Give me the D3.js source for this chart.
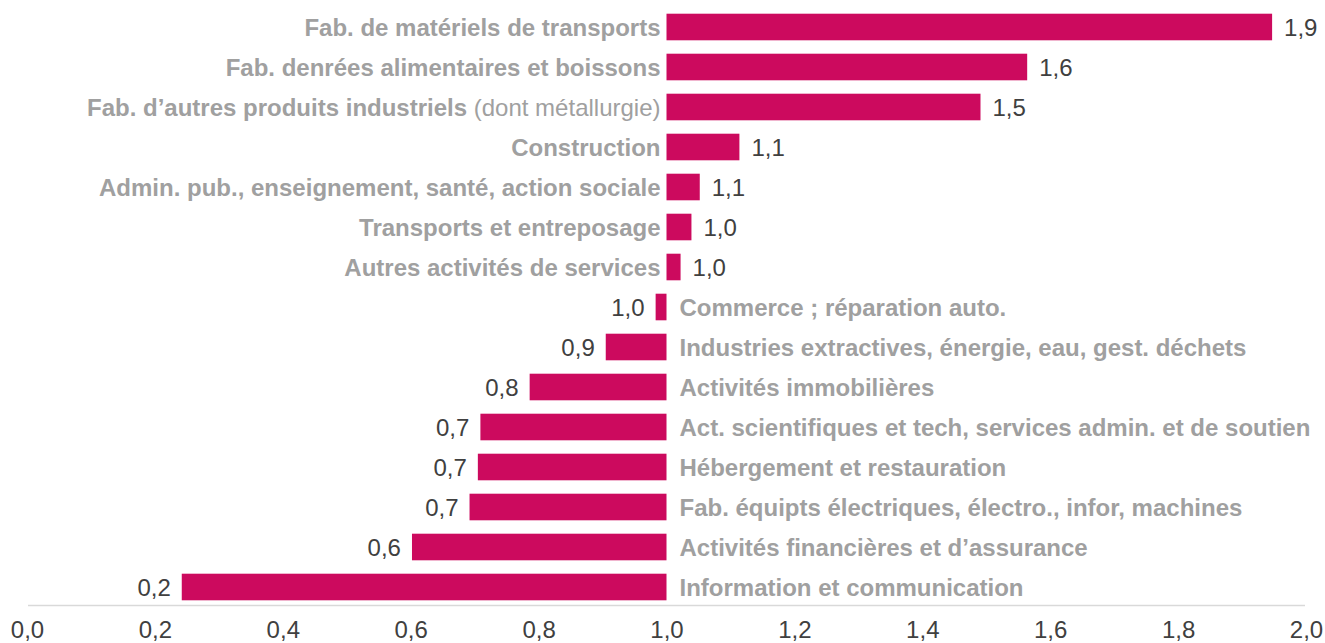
<!DOCTYPE html>
<html>
<head>
<meta charset="utf-8">
<script src="https://cdn.jsdelivr.net/npm/d3@7"></script>
<style>
  body { margin: 0; background: #fff; }
  svg text { font-family: "Liberation Sans", Arial, sans-serif; }
</style>
</head>
<body>
<div id="chart"></div>
<script>
// categories, top to bottom
var categories = [
    "Fab. de matériels de transports",
    "Fab. denrées alimentaires et boissons",
    "Fab. d’autres produits industriels",
    "Construction",
    "Admin. pub., enseignement, santé, action sociale",
    "Transports et entreposage",
    "Autres activités de services",
    "Commerce ; réparation auto.",
    "Industries extractives, énergie, eau, gest. déchets",
    "Activités immobilières",
    "Act. scientifiques et tech, services admin. et de soutien",
    "Hébergement et restauration",
    "Fab. équipts électriques, électro., infor, machines",
    "Activités financières et d’assurance",
    "Information et communication"
];
// light suffix shown after the bold name
var suffixes = ["", "", " (dont métallurgie)", "", "", "", "", "", "", "", "", "", "", "", ""];

var values = [1.947, 1.564, 1.491, 1.114, 1.052, 1.039, 1.022, 0.983, 0.905, 0.786, 0.709, 0.705, 0.692, 0.602, 0.242];
var valueLabels = ["1,9", "1,6", "1,5", "1,1", "1,1", "1,0", "1,0", "1,0", "0,9", "0,8", "0,7", "0,7", "0,7", "0,6", "0,2"];

var tickValues = [0, 0.2, 0.4, 0.6, 0.8, 1.0, 1.2, 1.4, 1.6, 1.8, 2.0];
var tickLabels = ["0,0", "0,2", "0,4", "0,6", "0,8", "1,0", "1,2", "1,4", "1,6", "1,8", "2,0"];

var baseline = 1.0;

var width = 1325, height = 643;
var fontSize = "24px";

var svg = d3.select("#chart").append("svg")
    .attr("width", width)
    .attr("height", height);

var x = d3.scaleLinear().domain([0, 2]).range([27, 1306]);

var y = d3.scaleBand()
    .domain(categories)
    .range([7, 607])
    .paddingInner(0.335)
    .paddingOuter(0.1675);

var rows = categories.map(function (c, i) {
    return { name: c, suffix: suffixes[i], value: values[i], label: valueLabels[i] };
});

// axis line
svg.append("line")
    .attr("x1", 28).attr("x2", 1305)
    .attr("y1", 605.5).attr("y2", 605.5)
    .attr("stroke", "#d9d9d9")
    .attr("stroke-width", 1.5);

// tick labels through a d3 axis
var axis = svg.append("g")
    .attr("transform", "translate(0,638)")
    .call(d3.axisBottom(x)
        .tickValues(tickValues)
        .tickSize(0)
        .tickPadding(0)
        .tickFormat(function (d, i) { return tickLabels[i]; }));
axis.select(".domain").remove();
axis.selectAll("text")
    .attr("dy", "0")
    .style("font-family", "'Liberation Sans', Arial, sans-serif")
    .style("font-size", fontSize)
    .attr("fill", "#404040");

var row = svg.append("g").selectAll("g")
    .data(rows)
    .enter().append("g");

row.append("rect")
    .attr("x", function (d) { return x(Math.min(d.value, baseline)); })
    .attr("y", function (d) { return y(d.name); })
    .attr("width", function (d) { return Math.abs(x(d.value) - x(baseline)); })
    .attr("height", y.bandwidth())
    .attr("fill", "#cc0a5e");

// value labels
row.append("text")
    .attr("x", function (d) { return d.value >= baseline ? x(d.value) + 12 : x(d.value) - 11; })
    .attr("y", function (d) { return y(d.name) + y.bandwidth() / 2; })
    .attr("dy", "0.36em")
    .attr("text-anchor", function (d) { return d.value >= baseline ? "start" : "end"; })
    .style("font-size", fontSize)
    .attr("fill", "#404040")
    .text(function (d) { return d.label; });

// category labels on the other side of the 1.0 line
var cat = row.append("text")
    .attr("x", function (d) { return d.value >= baseline ? x(baseline) - 6 : x(baseline) + 13; })
    .attr("y", function (d) { return y(d.name) + y.bandwidth() / 2; })
    .attr("dy", "0.36em")
    .attr("text-anchor", function (d) { return d.value >= baseline ? "end" : "start"; })
    .style("font-size", fontSize)
    .attr("fill", "#a0a0a0");

cat.append("tspan")
    .style("font-weight", "bold")
    .text(function (d) { return d.name; });
cat.append("tspan")
    .text(function (d) { return d.suffix; });
</script>
</body>
</html>
